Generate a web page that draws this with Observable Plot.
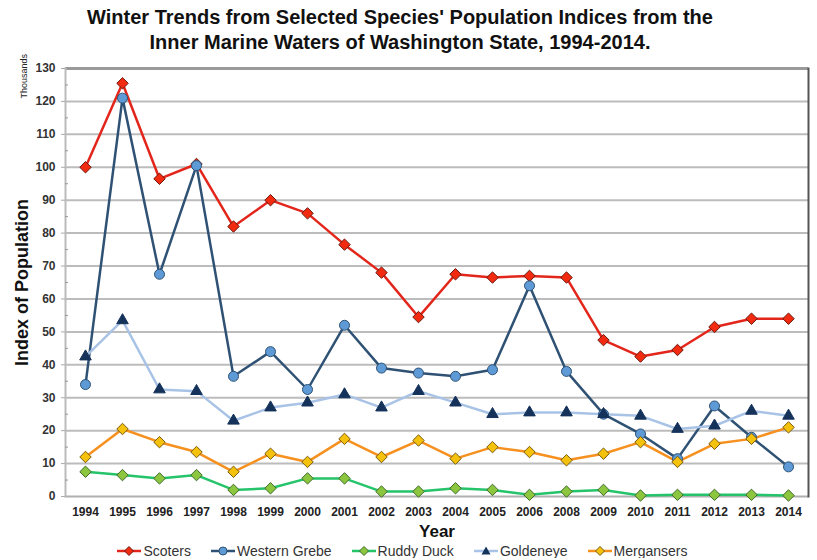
<!DOCTYPE html>
<html>
<head>
<meta charset="utf-8">
<script src="https://cdn.jsdelivr.net/npm/d3@7"></script>
<script src="https://cdn.jsdelivr.net/npm/@observablehq/plot@0.6"></script>
<style>
  body { margin: 0; background: #fff; font-family: "Liberation Sans", Arial, sans-serif; }
  #title { width: 817px; height: 60px; box-sizing: border-box; padding: 5px 17px 0 0; text-align: center; font-weight: bold; font-size: 20px; line-height: 25px; color: #111; }
  #legend { width: 817px; display: flex; justify-content: center; padding-right: 12px; box-sizing: border-box; gap: 20px; font-size: 14px; color: #333; height: 14px; line-height: 14px; align-items: center; margin-top: 2px; }
  #legend .item { display: flex; align-items: center; gap: 2px; }
  #legend svg { display: block; }
</style>
</head>
<body>
<div id="title">Winter Trends from Selected Species' Population Indices from the<br>Inner Marine Waters of Washington State, 1994-2014.</div>
<div id="chart"></div>
<div id="legend"></div>
<script>
const years = ["1994","1995","1996","1997","1998","1999","2000","2001","2002","2003","2004","2005","2006","2008","2009","2010","2011","2012","2013","2014"];
const scoters      = [100, 125.5, 96.5, 101, 82, 90, 86, 76.5, 68, 54.5, 67.5, 66.5, 67, 66.5, 47.5, 42.5, 44.5, 51.5, 54, 54];
const westernGrebe = [34, 121, 67.5, 100.5, 36.5, 44, 32.5, 52, 39, 37.5, 36.5, 38.5, 64, 38, 25, 19, 11.5, 27.5, 18, 9];
const ruddyDuck    = [7.5, 6.5, 5.5, 6.5, 2, 2.5, 5.5, 5.5, 1.5, 1.5, 2.5, 2, 0.5, 1.5, 2, 0.3, 0.5, 0.5, 0.5, 0.3];
const goldeneye    = [42.5, 53.5, 32.5, 32, 23, 27, 28.5, 31, 27, 32, 28.5, 25, 25.5, 25.5, 25, 24.5, 20.5, 21.5, 26, 24.5];
const mergansers   = [12, 20.5, 16.5, 13.5, 7.5, 13, 10.5, 17.5, 12, 17, 11.5, 15, 13.5, 11, 13, 16.5, 10.5, 16, 17.5, 21];
const yTicks = d3.range(0, 131, 10);
const yMinor = d3.range(5, 130, 10);

const squareDiamond = {
  draw(context, size) {
    const r = Math.sqrt(size / 2.4);
    context.moveTo(0, -r); context.lineTo(r, 0); context.lineTo(0, r); context.lineTo(-r, 0); context.closePath();
  }
};

const series = [
  {name: "Scoters", values: scoters, line: "#e3261b", fill: "#f22a10", stroke: "#6b1a10", symbol: "diamond"},
  {name: "Western Grebe", values: westernGrebe, line: "#2f5274", fill: "#5d9ad6", stroke: "#2f5274", symbol: "circle"},
  {name: "Ruddy Duck", values: ruddyDuck, line: "#25c46a", fill: "#8cc63f", stroke: "#3d6b2a", symbol: "diamond"},
  {name: "Goldeneye", values: goldeneye, line: "#a8c3e6", fill: "#14325a", stroke: "#14325a", symbol: "triangle"},
  {name: "Mergansers", values: mergansers, line: "#f6901e", fill: "#f4c20d", stroke: "#7a5a10", symbol: "diamond"}
];

const marks = [
  Plot.gridY(yTicks.filter(d => d > 0 && d < 130), {stroke: "#bcbcbc", strokeWidth: 2, strokeOpacity: 1}),
  Plot.ruleY([130], {stroke: "#9a9a9a", strokeWidth: 3}),
  Plot.ruleY([0], {stroke: "#b0b0b0", strokeWidth: 2}),
  Plot.frame({anchor: "right", stroke: "#555", strokeWidth: 2}),
  Plot.frame({anchor: "left", stroke: "#bbb", strokeWidth: 2}),
  Plot.axisY(yMinor, {tickSize: -3, text: null, stroke: "#999"}),
  Plot.axisY(yTicks, {tickSize: 4, tickPadding: 6, fontSize: 12, fontWeight: "bold", fill: "#333", stroke: "#aaa",
    label: "Index of Population", labelAnchor: "center", labelArrow: "none", labelOffset: 50}),
  Plot.axisX({tickSize: 0, tickPadding: 11, fontSize: 12, fontWeight: "bold", fill: "#222",
    label: "Year", labelAnchor: "center", labelArrow: "none", labelOffset: 40}),
  Plot.text(["Thousands"], {frameAnchor: "top-left", dx: -45, dy: 30, rotate: -90, fontSize: 9, fill: "#222"})
];
for (const s of series) {
  const data = years.map((y, i) => ({year: y, value: s.values[i]}));
  marks.push(Plot.line(data, {x: "year", y: "value", stroke: s.line, strokeWidth: 2.5}));
}
for (const s of series) {
  const data = years.map((y, i) => ({year: y, value: s.values[i]}));
  const sym = s.symbol === "diamond" ? squareDiamond : s.symbol;
  marks.push(Plot.dot(data, {x: "year", y: "value", symbol: sym, fill: s.fill, stroke: s.stroke, strokeWidth: 1, r: s.symbol === "triangle" ? 4.3 : 5}));
}

const chart = Plot.plot({
  width: 817,
  height: 482,
  marginTop: 8,
  marginLeft: 65,
  marginRight: 9,
  marginBottom: 46,
  style: {fontFamily: "'Liberation Sans', Arial, sans-serif", background: "#fff", overflow: "visible"},
  x: {type: "point", domain: years, label: null},
  y: {domain: [0, 130], label: null},
  marks
});
chart.querySelectorAll("[aria-label='y-axis label'] text").forEach(t => {
  t.setAttribute("font-size", "18"); t.setAttribute("font-weight", "bold"); t.setAttribute("fill", "#111");
});
chart.querySelectorAll("[aria-label='x-axis label'] text").forEach(t => {
  t.setAttribute("font-size", "17"); t.setAttribute("font-weight", "bold"); t.setAttribute("fill", "#111");
});
document.getElementById("chart").appendChild(chart);

const legend = document.getElementById("legend");
for (const s of series) {
  const item = document.createElement("div");
  item.className = "item";
  let marker;
  if (s.symbol === "circle") marker = `<circle cx="12" cy="7" r="4" fill="${s.fill}" stroke="${s.stroke}"/>`;
  else if (s.symbol === "triangle") marker = `<path d="M12,2.5 L16.5,10.5 L7.5,10.5Z" fill="${s.fill}"/>`;
  else marker = `<path d="M12,2.5 L16.5,7 L12,11.5 L7.5,7Z" fill="${s.fill}" stroke="${s.stroke}"/>`;
  item.innerHTML = `<svg width="24" height="14"><line x1="0" x2="24" y1="7" y2="7" stroke="${s.line}" stroke-width="2.5"/>${marker}</svg><span>${s.name}</span>`;
  legend.appendChild(item);
}
</script>
</body>
</html>
